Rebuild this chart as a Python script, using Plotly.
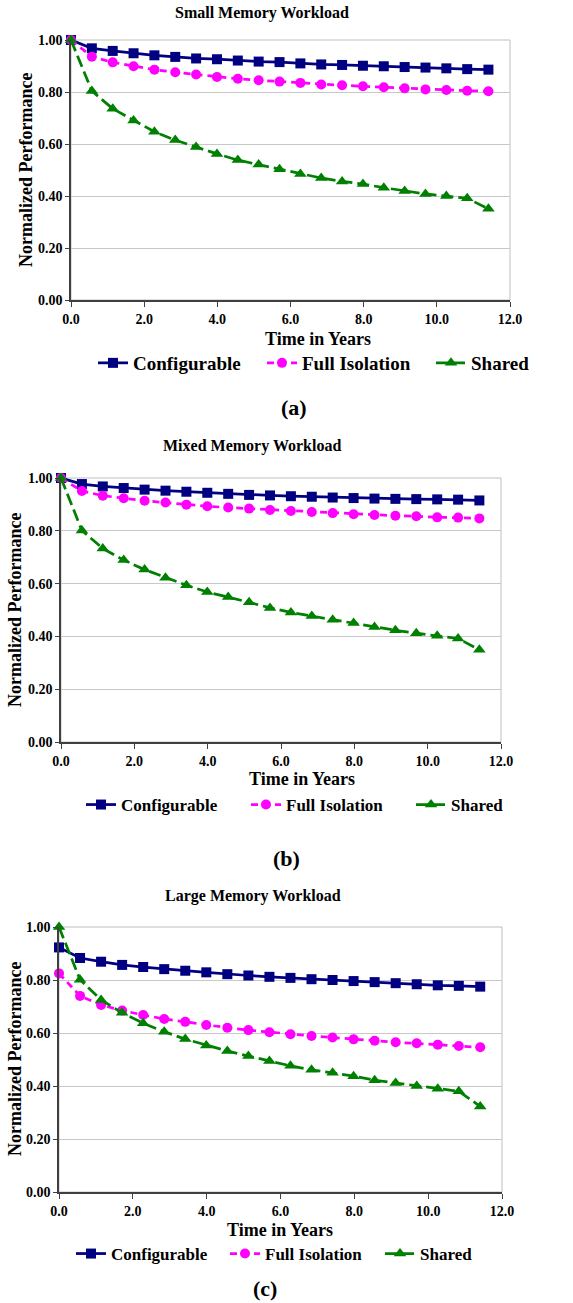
import plotly.graph_objects as go

# ---------------- data ----------------
years = [0.0, 0.57, 1.14, 1.71, 2.28, 2.85, 3.42, 3.99, 4.56, 5.13, 5.70,
         6.27, 6.84, 7.41, 7.98, 8.55, 9.12, 9.69, 10.26, 10.83, 11.41]

series_names = ["Configurable", "Full Isolation", "Shared"]

small_config = [1.000, 0.968, 0.958, 0.949, 0.941, 0.935, 0.929, 0.926, 0.921, 0.917, 0.915,
                0.910, 0.906, 0.904, 0.901, 0.899, 0.896, 0.894, 0.891, 0.888, 0.886]
small_full = [1.000, 0.936, 0.914, 0.899, 0.886, 0.876, 0.867, 0.858, 0.851, 0.845, 0.840,
              0.835, 0.829, 0.826, 0.822, 0.818, 0.814, 0.810, 0.808, 0.805, 0.803]
small_shared = [1.000, 0.804, 0.736, 0.690, 0.647, 0.615, 0.588, 0.562, 0.538, 0.521, 0.503,
                0.485, 0.469, 0.456, 0.446, 0.432, 0.419, 0.408, 0.400, 0.391, 0.351]

mixed_config = [1.000, 0.977, 0.968, 0.962, 0.956, 0.952, 0.948, 0.944, 0.940, 0.936, 0.934,
                0.931, 0.929, 0.926, 0.924, 0.922, 0.921, 0.920, 0.919, 0.918, 0.915]
mixed_full = [1.000, 0.951, 0.933, 0.923, 0.914, 0.907, 0.899, 0.893, 0.888, 0.884, 0.879,
              0.875, 0.871, 0.867, 0.863, 0.860, 0.857, 0.855, 0.851, 0.850, 0.847]
mixed_shared = [1.000, 0.801, 0.733, 0.689, 0.653, 0.622, 0.594, 0.568, 0.549, 0.529, 0.508,
                0.491, 0.477, 0.463, 0.451, 0.436, 0.423, 0.412, 0.402, 0.392, 0.349]

large_config = [0.923, 0.883, 0.869, 0.857, 0.849, 0.841, 0.835, 0.829, 0.822, 0.817, 0.812,
                0.808, 0.803, 0.800, 0.796, 0.792, 0.788, 0.784, 0.780, 0.778, 0.775]
large_full = [0.825, 0.740, 0.706, 0.685, 0.668, 0.653, 0.642, 0.630, 0.620, 0.611, 0.603,
              0.595, 0.589, 0.583, 0.576, 0.571, 0.565, 0.561, 0.556, 0.551, 0.546]
large_shared = [1.000, 0.801, 0.725, 0.676, 0.637, 0.605, 0.577, 0.553, 0.532, 0.513, 0.494,
                0.476, 0.461, 0.450, 0.437, 0.422, 0.411, 0.400, 0.390, 0.380, 0.323]

panel_titles = ["Small Memory Workload", "Mixed Memory Workload", "Large Memory Workload"]
panel_labels = ["(a)", "(b)", "(c)"]
x_ticks = [0, 2, 4, 6, 8, 10, 12]
x_tick_text = ["0.0", "2.0", "4.0", "6.0", "8.0", "10.0", "12.0"]
y_ticks = [0.0, 0.2, 0.4, 0.6, 0.8, 1.0]
y_tick_text = ["0.00", "0.20", "0.40", "0.60", "0.80", "1.00"]

panels = [
    [small_config, small_full, small_shared],
    [mixed_config, mixed_full, mixed_shared],
    [large_config, large_full, large_shared],
]

# ---------------- layout geometry (pixels) ----------------
W, H = 573, 1303
FONT = "Liberation Serif"
colors = ["#000080", "#FF00FF", "#008000"]
symbols = ["square", "circle", "triangle-up"]
msizes = [10, 10, 11]
dashes = ["solid", "7px,5px", "12px,5px"]

# plot area boxes: (left, right, top, bottom) in px
boxes = [(71, 510, 40, 300), (61, 501, 478, 742), (59, 502, 927, 1192)]
title_pos = [(262, 13), (252, 446), (253, 896)]
xtitle_pos = [(318, 339), (302, 779), (280, 1230)]
ytitle_pos = [(26, 170), (15, 610), (15, 1059)]
label_pos = [(294, 407), (286, 858), (265, 1288)]
# legend text start x per panel / series, and legend row y
legend_text_x = [[135, 304, 473], [123, 288, 453], [113, 267, 422]]
legend_y = [363, 805, 1254]
legend_font = [19, 17, 17]


def px_x(p):
    return p / W


def px_y(p):
    return 1 - p / H


fig = go.Figure()
annotations = []
shapes = []
layout_extra = {}

for i, data in enumerate(panels):
    sfx = "" if i == 0 else str(i + 1)
    for j, vals in enumerate(data):
        k = i * 3 + j
        leg = "legend" if k == 0 else "legend" + str(k + 1)
        fig.add_trace(go.Scatter(
            x=years, y=vals, name=series_names[j],
            mode="lines+markers",
            xaxis="x" + sfx, yaxis="y" + sfx,
            legend=leg,
            line=dict(color=colors[j], width=2.75, dash=dashes[j]),
            marker=dict(symbol=symbols[j], size=msizes[j], color=colors[j],
                        line=dict(width=0)),
            cliponaxis=False,
        ))
        layout_extra[leg] = dict(
            orientation="h", x=px_x(legend_text_x[i][j] - 42), xanchor="left",
            y=px_y(legend_y[i]), yanchor="middle",
            font=dict(family=FONT, size=legend_font[i], color="black", weight="bold"),
            bgcolor="rgba(0,0,0,0)", itemwidth=30, borderwidth=0,
        )
    l, r, t, b = boxes[i]
    layout_extra["xaxis" + sfx] = dict(
        domain=[px_x(l), px_x(r)], anchor="y" + sfx, range=[0, 12],
        tickvals=x_ticks, ticktext=x_tick_text, ticks="outside", ticklen=5,
        tickwidth=1, tickcolor="#404040", automargin=False,
        showline=True, linecolor="#404040", linewidth=1.5,
        showgrid=False, zeroline=False,
        tickfont=dict(family=FONT, size=14, color="black", weight="bold"),
    )
    layout_extra["yaxis" + sfx] = dict(
        domain=[px_y(b), px_y(t)], anchor="x" + sfx, range=[0, 1],
        tickvals=y_ticks, ticktext=y_tick_text, ticks="outside", ticklen=4,
        tickwidth=1, tickcolor="#404040", automargin=False,
        showline=True, linecolor="#404040", linewidth=1.5,
        showgrid=True, gridcolor="#C8C8C8", gridwidth=1, zeroline=False,
        tickfont=dict(family=FONT, size=14, color="black", weight="bold"),
    )
    shapes.append(dict(type="rect", xref="x" + sfx + " domain", yref="y" + sfx + " domain",
                       x0=0, x1=1, y0=0, y1=1, line=dict(color="#BFBFBF", width=1),
                       layer="below"))
    annotations.append(dict(text=panel_titles[i], x=px_x(title_pos[i][0]), y=px_y(title_pos[i][1]),
                            xref="paper", yref="paper", showarrow=False,
                            xanchor="center", yanchor="middle",
                            font=dict(family=FONT, size=16, color="black", weight="bold")))
    annotations.append(dict(text="Time in Years", x=px_x(xtitle_pos[i][0]), y=px_y(xtitle_pos[i][1]),
                            xref="paper", yref="paper", showarrow=False,
                            xanchor="center", yanchor="middle",
                            font=dict(family=FONT, size=18, color="black", weight="bold")))
    annotations.append(dict(text="Normalized Performance", x=px_x(ytitle_pos[i][0]), y=px_y(ytitle_pos[i][1]),
                            xref="paper", yref="paper", showarrow=False, textangle=-90,
                            xanchor="center", yanchor="middle",
                            font=dict(family=FONT, size=18, color="black", weight="bold")))
    annotations.append(dict(text=panel_labels[i], x=px_x(label_pos[i][0]), y=px_y(label_pos[i][1]),
                            xref="paper", yref="paper", showarrow=False,
                            xanchor="center", yanchor="middle",
                            font=dict(family=FONT, size=22, color="black", weight="bold")))

fig.update_layout(**layout_extra)
fig.update_layout(
    width=W, height=H,
    margin=dict(l=0, r=0, t=0, b=0, pad=0, autoexpand=False),
    paper_bgcolor="white", plot_bgcolor="white",
    showlegend=True,
    annotations=annotations, shapes=shapes,
    font=dict(family=FONT, color="black"),
)

fig.write_html("out.html")
